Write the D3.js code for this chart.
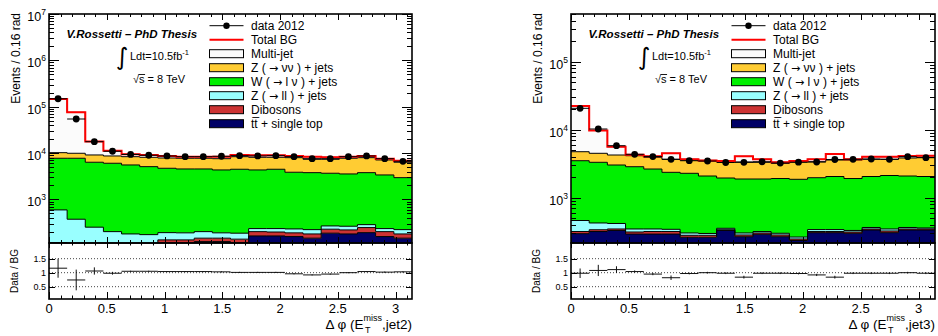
<!DOCTYPE html>
<html><head><meta charset="utf-8">
<script src="https://cdn.jsdelivr.net/npm/d3@7"></script>
<style>
body{margin:0;background:#fff}
svg{display:block}
text{font-family:"Liberation Sans",Arial,Helvetica,sans-serif;fill:#000}
</style>
</head><body>
<svg id="c" width="938" height="336"></svg>
<script>
// ---------------- DATA ----------------
const binEdges = [0, 0.157, 0.314, 0.471, 0.628, 0.785, 0.942, 1.100, 1.257, 1.414, 1.571,
                  1.728, 1.885, 2.042, 2.199, 2.356, 2.513, 2.670, 2.827, 2.985, 3.142];
const xTickLabels = ["0", "0.5", "1", "1.5", "2", "2.5", "3"];
const xTickValues = [0, 0.5, 1, 1.5, 2, 2.5, 3];
const ratioTickValues = [0.5, 1, 1.5];
const ratioTickLabels = ["0.5", "1", "1.5"];
const legendLabels = ["data 2012", "Total BG", "Multi-jet", "Z ( \u2192 \u03bd\u03bd ) + jets",
                      "W ( \u2192 l \u03bd ) + jets", "Z ( \u2192 ll ) + jets", "Dibosons", "tt\u0305 + single top"];
const seriesKeys = ["ttbar", "dibosons", "zll", "wlv", "znn", "multijet"]; // stack order bottom -> top

// Panel 1 : jet2
const p1Ttbar    = [50,45,45,45,45,45,60,60,123,123,100,163,163,158,146,187,180,192,158,146];
const p1Dibosons = [67,60,60,60,60,60,74,74,23,23,39,39,35,32,34,41,40,55,44,34];
const p1Zll      = [477,269,147,97,75,69,58,56,56,44,48,33,37,41,43,40,44,39,33,43];
const p1Wlv      = [7133,7353,6087,5828,5360,4919,4508,4350,4338,4135,4288,4090,4240,3626,3558,3404,3280,3495,3138,2727];
const p1Znn      = [2473,2173,2761,2630,2820,3017,3130,3187,3187,3245,3885,3785,3635,4103,3564,3673,4183,4179,3727,3389];
const p1Multijet = [136400,65800,8700,2610,1060,990,830,633,633,790,740,820,820,700,1015,765,633,700,470,516];
const p1Data     = [148600,54300,17600,10940,9330,8970,8660,8360,8360,8530,8790,8660,8790,8360,7570,7570,8360,8660,7570,6650];
const p1Ratio    = [1.16,0.74,1.06,0.98,1.05,1.05,1.04,1.04,1.04,1.03,1.01,1.01,1.01,0.96,0.92,0.95,1.0,1.04,1.02,1.03];
const p1RatioErr = [0.34,0.37,0.13,0.05,0.02,0.02,0.02,0.02,0.02,0.02,0.02,0.02,0.02,0.02,0.02,0.02,0.02,0.02,0.02,0.02];

// Panel 2 : jet3
const p2Ttbar    = [296,318,330,292,292,292,262,262,330,267,290,267,235,306,306,300,335,306,335,335];
const p2Dibosons = [22,20,17,21,26,26,18,18,8,16,13,16,12,12,12,13,12,18,12,12];
const p2Zll      = [144,87,71,34,29,25,23,18,17,20,15,17,17,22,22,17,18,23,18,12];
const p2Wlv      = [3038,2891,2609,2510,2295,2020,1982,1787,1594,1581,1566,1615,1601,1628,1710,1585,1685,1774,1720,1691];
const p2Znn      = [1248,1181,1219,1289,1285,1307,1297,1380,1432,1466,1432,1290,1485,1413,1532,1667,1620,1549,1752,1877];
const p2Multijet = [17560,5233,1377,154,134,827,88,75,84,711,354,111,115,289,809,88,339,339,268,219];
const p2Data     = [20640,10240,5817,4348,4033,3670,3500,3465,3296,3316,3381,3236,3327,3350,3647,3670,3707,3670,4009,3874];
const p2Ratio    = [0.98,1.08,1.11,1.04,0.95,0.82,0.97,1.0,0.98,0.84,0.98,0.98,0.97,0.92,0.84,0.98,0.98,0.98,1.0,0.98];
const p2RatioErr = [0.17,0.2,0.12,0.04,0.04,0.08,0.03,0.03,0.03,0.05,0.03,0.03,0.03,0.04,0.05,0.03,0.03,0.03,0.03,0.03];

// ---------------- STYLE ----------------
const seriesColors = {ttbar:"#000066", dibosons:"#cc3333", zll:"#99ffff", wlv:"#00f000", znn:"#ffcc33", multijet:"#fbfbfb"};
const TOP = 14, MAIN_BOTTOM = 243, RATIO_BOTTOM = 299;
const svg = d3.select("#c");

function stepPoints(vals, x, y) {
  const pts = [];
  vals.forEach((v, i) => { pts.push([x(binEdges[i]), y(v)]); pts.push([x(binEdges[i + 1]), y(v)]); });
  return pts;
}

function drawPanel(p) {
  const g = svg.append("g");
  const x = d3.scaleLinear().domain([binEdges[0], binEdges[binEdges.length - 1]]).range([p.left, p.right]);
  const y = d3.scaleLog().domain(p.yDomain).range([MAIN_BOTTOM, TOP]);
  const r = d3.scaleLinear().domain([0.06, 2.06]).range([RATIO_BOTTOM, MAIN_BOTTOM]);
  const yc = v => y(Math.max(v, 1));

  const clipId = "clip" + p.id;
  svg.append("clipPath").attr("id", clipId).append("rect")
    .attr("x", p.left).attr("y", TOP).attr("width", p.right - p.left).attr("height", MAIN_BOTTOM - TOP);
  const clipR = "clipr" + p.id;
  svg.append("clipPath").attr("id", clipR).append("rect")
    .attr("x", p.left).attr("y", MAIN_BOTTOM).attr("width", p.right - p.left).attr("height", RATIO_BOTTOM - MAIN_BOTTOM);

  const rows = p.series.ttbar.map((_, i) => { const o = {}; seriesKeys.forEach(k => o[k] = p.series[k][i]); return o; });
  const stacked = d3.stack().keys(seriesKeys)(rows);
  const plot = g.append("g").attr("clip-path", `url(#${clipId})`);

  stacked.forEach(layer => {
    const up = stepPoints(layer.map(d => d[1]), x, yc);
    const lo = stepPoints(layer.map(d => d[0]), x, yc).reverse();
    plot.append("path").attr("d", "M" + up.concat(lo).map(q => q.join(",")).join("L") + "Z")
      .attr("fill", seriesColors[layer.key]).attr("stroke", "none");
  });
  stacked.forEach(layer => {
    plot.append("path").attr("d", d3.line()(stepPoints(layer.map(d => d[1]), x, yc)))
      .attr("fill", "none").attr("stroke", "#000").attr("stroke-width", 1);
  });
  const totals = rows.map(o => d3.sum(seriesKeys, k => o[k]));
  plot.append("path").attr("d", d3.line()(stepPoints(totals, x, yc)))
    .attr("fill", "none").attr("stroke", "#ff0000").attr("stroke-width", 2);

  // data
  p.data.forEach((v, i) => {
    const cx = x((binEdges[i] + binEdges[i + 1]) / 2);
    plot.append("line").attr("x1", x(binEdges[i])).attr("x2", x(binEdges[i + 1]))
      .attr("y1", y(v)).attr("y2", y(v)).attr("stroke", "#000").attr("stroke-width", 1);
    const e = Math.sqrt(v);
    plot.append("line").attr("x1", cx).attr("x2", cx).attr("y1", y(v + e)).attr("y2", y(v - e))
      .attr("stroke", "#000").attr("stroke-width", 1);
    plot.append("circle").attr("cx", cx).attr("cy", y(v)).attr("r", 3.4).attr("fill", "#000");
  });

  // ratio panel
  const rp = g.append("g").attr("clip-path", `url(#${clipR})`);
  ratioTickValues.forEach(t => {
    rp.append("line").attr("x1", p.left).attr("x2", p.right).attr("y1", r(t)).attr("y2", r(t))
      .attr("stroke", "#444").attr("stroke-width", 1).attr("stroke-dasharray", "1,2");
  });
  p.ratio.forEach((v, i) => {
    const cx = x((binEdges[i] + binEdges[i + 1]) / 2);
    rp.append("line").attr("x1", x(binEdges[i])).attr("x2", x(binEdges[i + 1]))
      .attr("y1", r(v)).attr("y2", r(v)).attr("stroke", "#111").attr("stroke-width", 1);
    rp.append("line").attr("x1", cx).attr("x2", cx)
      .attr("y1", r(v + p.ratioErr[i])).attr("y2", r(v - p.ratioErr[i])).attr("stroke", "#111").attr("stroke-width", 1);
  });

  // ticks
  const tk = g.append("g").attr("stroke", "#000").attr("stroke-width", 1);
  const lo = Math.floor(Math.log10(p.yDomain[0])), hi = Math.ceil(Math.log10(p.yDomain[1]));
  for (let d = lo; d <= hi; d++) {
    for (let m = 1; m <= 9; m++) {
      const v = m * Math.pow(10, d);
      if (v < p.yDomain[0] || v > p.yDomain[1]) continue;
      const len = m === 1 ? 10 : 5, yy = Math.round(y(v)) + 0.5;
      tk.append("line").attr("x1", p.left).attr("x2", p.left + len).attr("y1", yy).attr("y2", yy);
      tk.append("line").attr("x1", p.right - len).attr("x2", p.right).attr("y1", yy).attr("y2", yy);
      if (m === 1) {
        const t = g.append("text").attr("x", p.left - 3).attr("y", y(v) + 7).attr("text-anchor", "end")
          .attr("font-size", 12.5);
        t.append("tspan").text("10");
        t.append("tspan").attr("dy", -6).attr("font-size", 8.5).text(String(d));
      }
    }
  }
  for (let k = 0; k <= 31; k++) {
    const v = k / 10;
    if (v > binEdges[binEdges.length - 1]) continue;
    const major = k % 5 === 0;
    const xx = Math.round(x(v)) + 0.5;
    const lm = major ? 6 : 3;
    tk.append("line").attr("x1", xx).attr("x2", xx).attr("y1", MAIN_BOTTOM).attr("y2", MAIN_BOTTOM - lm);
    tk.append("line").attr("x1", xx).attr("x2", xx).attr("y1", TOP).attr("y2", TOP + lm);
    tk.append("line").attr("x1", xx).attr("x2", xx).attr("y1", MAIN_BOTTOM).attr("y2", MAIN_BOTTOM + (major ? 5 : 2.5));
    tk.append("line").attr("x1", xx).attr("x2", xx).attr("y1", RATIO_BOTTOM).attr("y2", RATIO_BOTTOM - (major ? 7 : 3.5));
  }
  ratioTickValues.forEach((t, i) => {
    const yy = Math.round(r(t)) + 0.5;
    tk.append("line").attr("x1", p.left).attr("x2", p.left + 6).attr("y1", yy).attr("y2", yy);
    tk.append("line").attr("x1", p.right - 6).attr("x2", p.right).attr("y1", yy).attr("y2", yy);
    g.append("text").attr("x", p.left - 3).attr("y", r(t) + 3).attr("text-anchor", "end")
      .attr("font-size", 9).text(ratioTickLabels[i]);
  });
  xTickValues.forEach((t, i) => {
    g.append("text").attr("x", x(t)).attr("y", 312.5).attr("text-anchor", "middle")
      .attr("font-size", 13).text(xTickLabels[i]);
  });

  // frames
  g.append("rect").attr("x", p.left).attr("y", TOP).attr("width", p.right - p.left).attr("height", MAIN_BOTTOM - TOP)
    .attr("fill", "none").attr("stroke", "#000").attr("stroke-width", 1.6);
  g.append("rect").attr("x", p.left).attr("y", MAIN_BOTTOM).attr("width", p.right - p.left).attr("height", RATIO_BOTTOM - MAIN_BOTTOM)
    .attr("fill", "none").attr("stroke", "#000").attr("stroke-width", 1.6);

  // axis titles
  g.append("text").attr("transform", `translate(${p.left - 29},${TOP - 1}) rotate(-90)`)
    .attr("text-anchor", "end").attr("font-size", 12).text("Events / 0.16 rad");
  g.append("text").attr("transform", `translate(${p.left - 31.5},271) rotate(-90)`)
    .attr("text-anchor", "middle").attr("font-size", 10).text("Data / BG");

  const xt = g.append("text").attr("y", 329).attr("font-size", 13.5);
  xt.append("tspan").text("\u0394 \u03c6 (E");
  xt.append("tspan").attr("dy", -8).attr("font-size", 9).text("miss");
  xt.append("tspan").attr("dy", 8).text("," + p.jet + ")");
  const w = xt.node().getComputedTextLength();
  const x0 = p.right - w;
  xt.attr("x", x0);
  const w1 = xt.node().getSubStringLength(0, 6);
  g.append("text").attr("x", x0 + w1 + 1.5).attr("y", 333).attr("font-size", 9).text("T");

  // annotations
  const ox = p.left - 49;
  g.append("text").attr("x", ox + 66.5).attr("y", 37.5).attr("font-size", 11.5)
    .attr("font-weight", "bold").attr("font-style", "italic").text("V.Rossetti \u2013 PhD Thesis");
  g.append("text").attr("x", ox + 116).attr("y", 65).attr("font-size", 24)
    .style("font-family", '"DejaVu Sans", sans-serif').text("\u222b");
  const lt = g.append("text").attr("x", ox + 130).attr("y", 60).attr("font-size", 11);
  lt.append("tspan").text("Ldt=10.5fb");
  lt.append("tspan").attr("dy", -5).attr("font-size", 7.5).text("-1");
  const st = g.append("text").attr("x", ox + 133).attr("y", 83).attr("font-size", 11);
  st.text("\u221as = 8 TeV");
  const sq = st.node().getSubStringLength(0, 1);
  const sw = st.node().getSubStringLength(1, 1);
  g.append("line").attr("x1", ox + 133 + sq - 0.5).attr("x2", ox + 133 + sq + sw + 0.5)
    .attr("y1", 74.5).attr("y2", 74.5).attr("stroke", "#000").attr("stroke-width", 0.9);

  // legend
  const lx = ox + 209.5, tx = ox + 251;
  legendLabels.forEach((lab, i) => {
    const cy = 25.7 + i * 14;
    if (i === 0) {
      g.append("line").attr("x1", lx).attr("x2", lx + 34).attr("y1", cy).attr("y2", cy).attr("stroke", "#000").attr("stroke-width", 1);
      g.append("circle").attr("cx", lx + 17).attr("cy", cy).attr("r", 3.2).attr("fill", "#000");
    } else if (i === 1) {
      g.append("line").attr("x1", lx).attr("x2", lx + 34).attr("y1", cy).attr("y2", cy).attr("stroke", "#ff0000").attr("stroke-width", 2);
    } else {
      const key = seriesKeys[seriesKeys.length - 1 - (i - 2)];
      g.append("rect").attr("x", lx).attr("y", cy - 4).attr("width", 34).attr("height", 8)
        .attr("fill", seriesColors[key]).attr("stroke", "#000").attr("stroke-width", 1);
    }
    const t = g.append("text").attr("x", tx).attr("y", cy + 4.3).attr("font-size", 12);
    lab.split("\u2192").forEach((part, j) => {
      if (j > 0) t.append("tspan").style("font-family", '"DejaVu Sans", sans-serif').attr("font-size", 11).text("\u2192");
      t.append("tspan").text(part);
    });
  });
}

drawPanel({id: 1, left: 49, right: 412, yDomain: [Math.pow(10, 2.06), 1e7], jet: "jet2",
  series: {ttbar: p1Ttbar, dibosons: p1Dibosons, zll: p1Zll, wlv: p1Wlv, znn: p1Znn, multijet: p1Multijet},
  data: p1Data, ratio: p1Ratio, ratioErr: p1RatioErr});
drawPanel({id: 2, left: 571, right: 935, yDomain: [Math.pow(10, 2.334), Math.pow(10, 5.7015)], jet: "jet3",
  series: {ttbar: p2Ttbar, dibosons: p2Dibosons, zll: p2Zll, wlv: p2Wlv, znn: p2Znn, multijet: p2Multijet},
  data: p2Data, ratio: p2Ratio, ratioErr: p2RatioErr});
</script>
</body></html>
